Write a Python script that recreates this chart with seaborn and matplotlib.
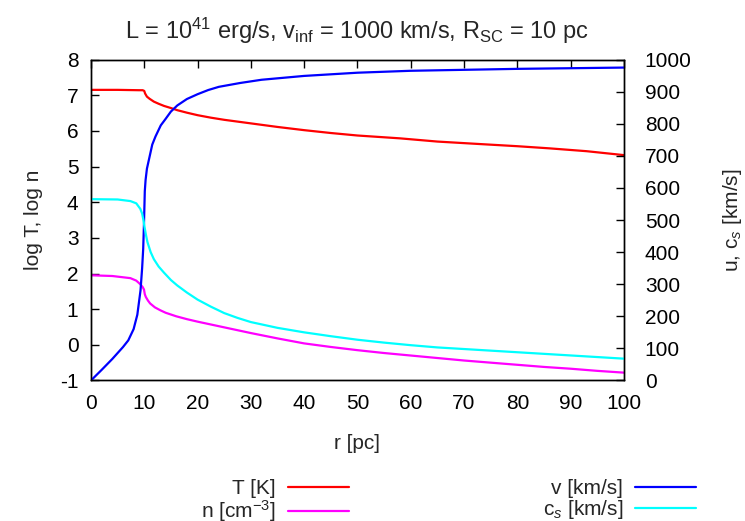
import pandas as pd
import matplotlib.pyplot as plt
import seaborn as sns

# values
r_T = [0, 5, 9, 9.7, 10.0, 10.15, 10.5, 11, 11.8, 12.7, 13.7, 15, 16.2, 18, 20,
       22.5, 25, 30, 35, 40, 45, 50, 58, 65, 73, 80, 86, 93, 100]
logT = [7.15, 7.15, 7.14, 7.14, 7.12, 7.05, 6.96, 6.90, 6.82, 6.76, 6.70, 6.64,
        6.58, 6.51, 6.44, 6.37, 6.31, 6.21, 6.11, 6.02, 5.94, 5.87, 5.79, 5.70,
        5.63, 5.57, 5.51, 5.43, 5.32]

r_n = [0, 4, 7.4, 8.5, 9.25, 9.7, 9.95, 10.1, 10.3, 10.7, 11.1, 12, 13, 14, 16,
       18, 20, 22.5, 25, 27.5, 30, 35, 40, 45, 50, 55, 60, 65, 70, 75, 80, 85,
       90, 95, 100]
logn = [1.95, 1.93, 1.87, 1.80, 1.70, 1.62, 1.55, 1.42, 1.34, 1.24, 1.16, 1.05,
        0.97, 0.90, 0.80, 0.72, 0.65, 0.57, 0.49, 0.41, 0.33, 0.18, 0.04, -0.06,
        -0.15, -0.23, -0.30, -0.37, -0.44, -0.50, -0.56, -0.62, -0.67, -0.73, -0.78]

r_v = [0, 2, 4, 6, 7, 8, 8.7, 9.3, 9.6, 9.8, 9.95, 10.1, 10.25, 10.5, 10.9,
       11.5, 12.1, 13.1, 14, 15, 16.2, 18, 20, 22, 24, 28, 32, 40, 50, 60, 70,
       80, 90, 100]
v = [0, 33, 67, 104, 125, 160, 205, 281, 350, 410, 490, 590, 625, 660, 690, 735,
     760, 795, 815, 838, 857, 877, 892, 905, 915, 927, 937, 949, 959, 965, 968,
     971, 973, 975]

r_cs = [0, 5, 7.4, 8.5, 9.25, 9.6, 9.9, 10, 10.3, 10.6, 11.2, 11.8, 12.7, 13.7,
        15, 16.2, 18, 20, 22.5, 25, 27.5, 30, 35, 40, 45, 50, 55, 60, 65, 70, 80,
        90, 100]
cs = [565, 564, 559, 552, 535, 520, 495, 483, 455, 431, 400, 378, 355, 336, 313,
      296, 274, 252, 230, 210, 195, 182, 164, 150, 138, 127, 118, 110, 103, 98,
      88, 78, 68]

sns.set_style('white')
plt.rcParams['font.family'] = ['Liberation Sans', 'DejaVu Sans']
plt.rcParams['mathtext.fontset'] = 'custom'
plt.rcParams['mathtext.rm'] = 'Liberation Sans'
plt.rcParams['mathtext.it'] = 'Liberation Sans:italic'
plt.rcParams['axes.unicode_minus'] = False
plt.rcParams['font.size'] = 15

fig = plt.figure(figsize=(7.45, 5.21), dpi=100)
ax = fig.add_axes([0.1221, 0.2697, 0.7154, 0.616])
ax2 = ax.twinx()

lw = 1.6
sns.lineplot(x=r_T, y=logT, ax=ax, color='#ff0000', lw=lw, label='T [K]', legend=False)
sns.lineplot(x=r_n, y=logn, ax=ax, color='#ff00ff', lw=lw, label='n [cm$^{-3}$]', legend=False)
sns.lineplot(x=r_v, y=v, ax=ax2, color='#0000ff', lw=lw, label='v [km/s]', legend=False)
sns.lineplot(x=r_cs, y=cs, ax=ax2, color='#00ffff', lw=lw, label='c$_s$ [km/s]', legend=False)

ax.set_xlim(0, 100)
ax.set_ylim(-1, 8)
ax2.set_ylim(0, 1000)
ax.set_xticks(range(0, 101, 10))
ax.set_yticks(range(-1, 9))
ax2.set_yticks(range(0, 1001, 100))

for a in (ax, ax2):
    for s in a.spines.values():
        s.set_color('black')
        s.set_linewidth(1.0)
ax.tick_params(axis='x', direction='in', top=True, length=6, width=1, pad=9.5, colors='black')
ax.tick_params(axis='y', direction='in', length=6, width=1, pad=9, colors='black')
ax2.tick_params(axis='y', direction='in', length=6, width=1, pad=15, colors='black')

ax.set_xlabel('r [pc]', labelpad=15)
ax.set_ylabel('log T, log n', labelpad=12)
ax2.set_ylabel('u, c$_s$ [km/s]', labelpad=21)
ax.set_title(r'L = 10$^{41}$ erg/s, v$_{\rm inf}$ = 1000 km/s, R$_{\rm SC}$ = 10 pc',
             pad=15, fontsize=17)

h1, l1 = ax.get_legend_handles_labels()
h2, l2 = ax2.get_legend_handles_labels()
common = dict(frameon=False, markerfirst=False, handlelength=2.9, labelspacing=0.0,
              handletextpad=0.6, borderpad=0, fontsize=15)
fig.legend(h1, l1, loc='upper right', bbox_to_anchor=(0.482, 0.1), **common)
fig.legend(h2, l2, loc='upper right', bbox_to_anchor=(0.948, 0.1), **common)

plt.savefig('out.png', dpi=100)
plt.close()
